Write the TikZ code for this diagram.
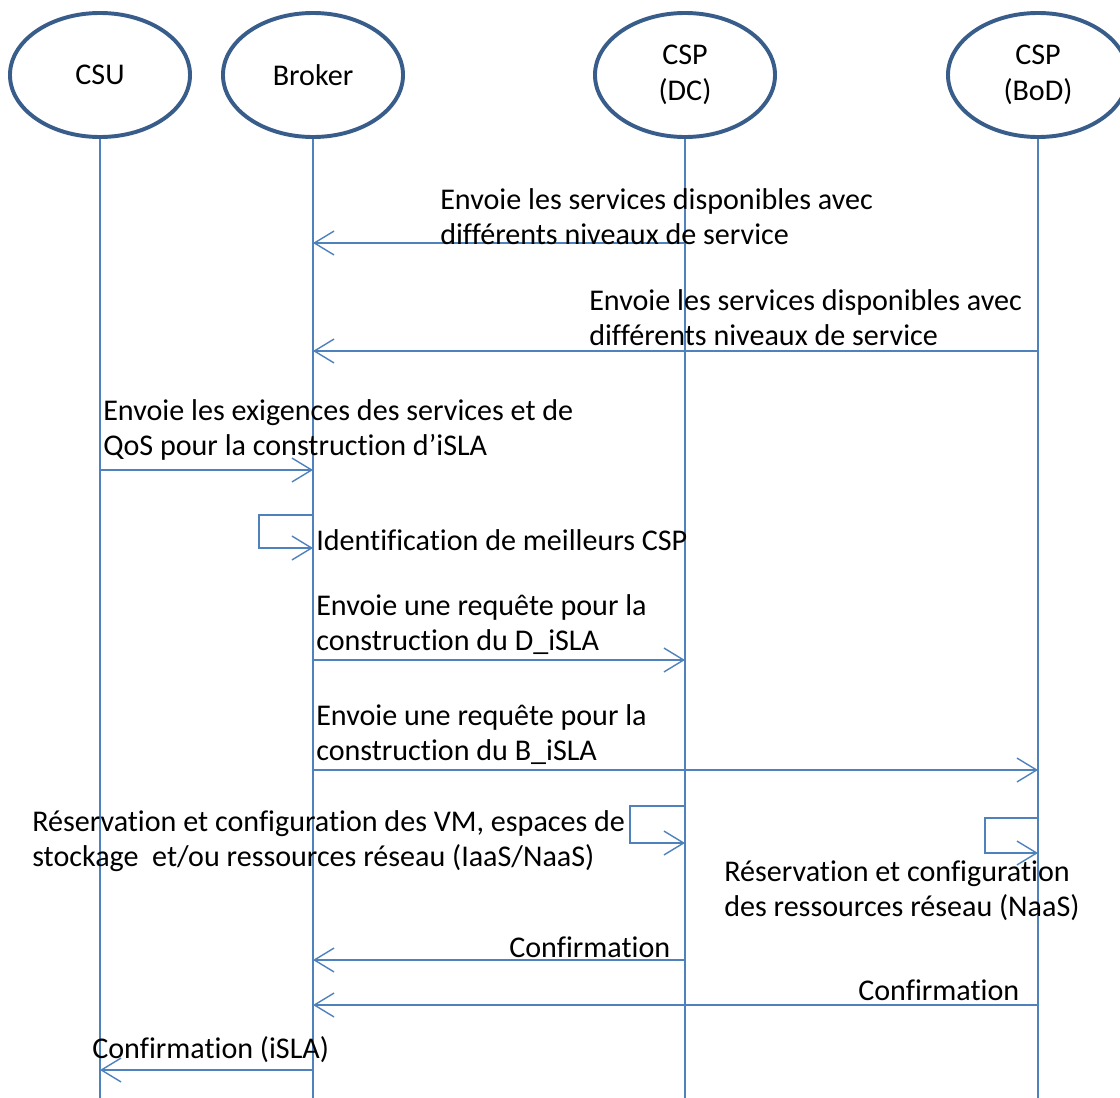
\documentclass[tikz,border=0pt]{standalone}
\usepackage{fontspec}
\setmainfont{Carlito}[Ligatures=NoCommon]
\usetikzlibrary{shapes.geometric,arrows.meta}

\begin{document}
\begin{tikzpicture}[x=0.025cm,y=-0.025cm,
    actor/.style={ellipse,draw=myDarkBlue,line width=2.8pt,minimum width=4.5cm,minimum height=3.1cm,align=center,font=\fontsize{21.4}{25.5}\selectfont},
    life/.style={myBlue,line width=1pt},
    msg/.style={myBlue,line width=1pt,-{Straight Barb[length=14pt,width=17pt,line width=1pt]}},
    lbl/.style={anchor=west,inner sep=0pt,align=left,font=\fontsize{21.4}{24.9}\selectfont}]
% Colors define
\definecolor{myDarkBlue}{HTML}{385D8A}
\definecolor{myBlue}{HTML}{4F81BD}

\useasboundingbox (0,0) rectangle (1120,1098);

% Actors
\node[actor] (CSU) at (100,75) {\raisebox{-2pt}{CSU}};
\node[actor] (Broker) at (313,75) {Broker};
\node[actor] (DC) at (685,75) {\raisebox{-2pt}{CSP}\\\raisebox{-2pt}{(DC)}};
\node[actor] (BoD) at (1038,75) {\raisebox{-2pt}{CSP}\\\raisebox{-2pt}{(BoD)}};

% Lifelines
\foreach \n in {CSU,Broker,DC,BoD}
    \draw[life] (\n.south) -- (\n.south |- 0,1098);

% Messages
\draw[msg] (DC |- 0,243) -- (Broker |- 0,243);
\node[lbl] (m1) at (440,216.5) {Envoie les services disponibles avec\\différents niveaux de service};

\draw[msg] (BoD |- 0,351) -- (Broker |- 0,351);
\node[lbl] (m2) at (589,317.5) {Envoie les services disponibles avec\\différents niveaux de service};

\draw[msg] (CSU |- 0,470) -- (Broker |- 0,470);
\node[lbl] (m3) at (103,429.5) {Envoie les exigences des services et de\\QoS pour la construction d’iSLA};

\draw[msg] (Broker |- 0,515) -- (259,515) -- (259,548) -- (Broker |- 0,548);
\node[lbl] (m4) at (316,540) {Identification de meilleurs CSP};

\draw[msg] (Broker |- 0,660) -- (DC |- 0,660);
\node[lbl] (m5) at (316,624.5) {Envoie une requête pour la\\construction du D\_iSLA};

\draw[msg] (Broker |- 0,770) -- (BoD |- 0,770);
\node[lbl] (m6) at (316,734.5) {Envoie une requête pour la\\construction du B\_iSLA};

% Self loops of the providers
\draw[msg] (DC |- 0,806) -- (630,806) -- (630,843) -- (DC |- 0,843);
\node[lbl] (m7) at (32,841.5) {Réservation et configuration des VM, espaces de\\stockage\ \ et/ou ressources réseau (IaaS/NaaS)};

\draw[msg] (BoD |- 0,818) -- (985,818) -- (985,853) -- (BoD |- 0,853);
\node[lbl] (m8) at (724,890.5) {Réservation et configuration\\des ressources réseau (NaaS)};

% Confirmations
\draw[msg] (DC |- 0,960) -- (Broker |- 0,960);
\node[lbl] (m9) at (509,947) {Confirmation};

\draw[msg] (BoD |- 0,1005) -- (Broker |- 0,1005);
\node[lbl] (m10) at (858,990) {Confirmation};

\draw[msg] (Broker |- 0,1070) -- (CSU |- 0,1070);
\node[lbl] (m11) at (92,1050) {Confirmation (iSLA)};
\end{tikzpicture}
\end{document}
